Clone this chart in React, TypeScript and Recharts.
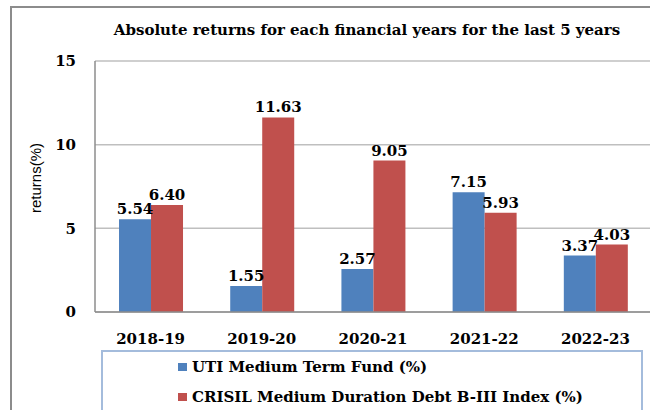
import React from "react";
import { Bar, BarChart, CartesianGrid, LabelList, Legend, XAxis, YAxis } from "recharts";

const years = ["2018-19", "2019-20", "2020-21", "2021-22", "2022-23"];
const fundReturns = [5.54, 1.55, 2.57, 7.15, 3.37];
const indexReturns = [6.4, 11.63, 9.05, 5.93, 4.03];
const yTicks = [0, 5, 10, 15];

const FUND = "UTI Medium Term Fund (%)";
const INDEX = "CRISIL Medium Duration Debt B-III Index (%)";
const seriesOrder = [FUND, INDEX];

const data = years.map((year, i) => ({
  year,
  fund: fundReturns[i],
  index: indexReturns[i],
}));

const serif = "'DejaVu Serif', serif";

const LegendBox = ({ payload }: any) => {
  const items = [...(payload || [])].sort(
    (a: any, b: any) => seriesOrder.indexOf(a.value) - seriesOrder.indexOf(b.value)
  );
  return (
    <div
      style={{
        width: 542,
        height: 70,
        border: "2px solid #a4bcdc",
        boxSizing: "border-box",
        fontFamily: serif,
        fontWeight: "bold",
        fontSize: 15,
        color: "#000",
        paddingLeft: 75,
        paddingTop: 0,
      }}
    >
      {items.map((p: any) => (
        <div key={p.value} style={{ display: "flex", alignItems: "center", height: 30 }}>
          <span
            style={{ width: 9, height: 8, background: p.color, display: "inline-block", marginRight: 5 }}
          />
          <span>{p.value}</span>
        </div>
      ))}
    </div>
  );
};

export default function App() {
  return (
    <div
      style={{
        position: "absolute",
        left: 0,
        top: 0,
        width: 650,
        height: 410,
        overflow: "hidden",
        background: "#fff",
      }}
    >
      <div
        style={{
          position: "absolute",
          left: 10,
          top: 6,
          width: 700,
          height: 500,
          borderLeft: "2px solid #8c8c8c",
          borderTop: "2px solid #8c8c8c",
        }}
      />
      <svg width={650} height={410} style={{ position: "absolute", left: 0, top: 0 }}>
        <text
          x={367}
          y={35}
          textAnchor="middle"
          fontFamily={serif}
          fontWeight="bold"
          fontSize={15}
          fill="#000"
        >
          Absolute returns for each financial years for the last 5 years
        </text>
        <text
          x={0}
          y={0}
          transform="translate(41,178) rotate(-90)"
          textAnchor="middle"
          fontFamily="'Liberation Sans', Arial, sans-serif"
          fontSize={15}
          fill="#000"
        >
          returns(%)
        </text>
      </svg>
      <div style={{ position: "absolute", left: 0, top: 0 }}>
        <BarChart
          width={651}
          height={410}
          data={data}
          margin={{ top: 61, right: 0, bottom: 0, left: 35 }}
          barCategoryGap="21.6%"
          barGap={0}
        >
          <CartesianGrid vertical={false} stroke="#bfbfbf" strokeWidth={1.5} />
          <XAxis
            dataKey="year"
            height={98}
            axisLine={{ stroke: "#8c8c8c", strokeWidth: 1.5 }}
            tickLine={false}
            tickSize={0}
            tickMargin={21}
            tick={{ fontFamily: serif, fontWeight: "bold", fontSize: 15, fill: "#000" }}
          />
          <YAxis
            width={60}
            domain={[0, 15]}
            ticks={yTicks}
            interval={0}
            axisLine={{ stroke: "#8c8c8c", strokeWidth: 1.5 }}
            tickLine={false}
            tickSize={0}
            tickMargin={19}
            tick={{ fontFamily: serif, fontWeight: "bold", fontSize: 15, fill: "#000" }}
          />
          <Legend
            layout="vertical"
            align="center"
            verticalAlign="middle"
            content={<LegendBox />}
            wrapperStyle={{ position: "absolute", left: 101, top: 350, width: 542, height: 70 }}
          />
          <Bar dataKey="fund" name={FUND} fill="#4f81bd" isAnimationActive={false}>
            <LabelList
              dataKey="fund"
              position="top"
              offset={5}
              formatter={(v: any) => Number(v).toFixed(2)}
              style={{ fontFamily: serif, fontWeight: "bold", fontSize: 15, fill: "#000" }}
            />
          </Bar>
          <Bar dataKey="index" name={INDEX} fill="#c0504d" isAnimationActive={false}>
            <LabelList
              dataKey="index"
              position="top"
              offset={5}
              formatter={(v: any) => Number(v).toFixed(2)}
              style={{ fontFamily: serif, fontWeight: "bold", fontSize: 15, fill: "#000" }}
            />
          </Bar>
        </BarChart>
      </div>
    </div>
  );
}
